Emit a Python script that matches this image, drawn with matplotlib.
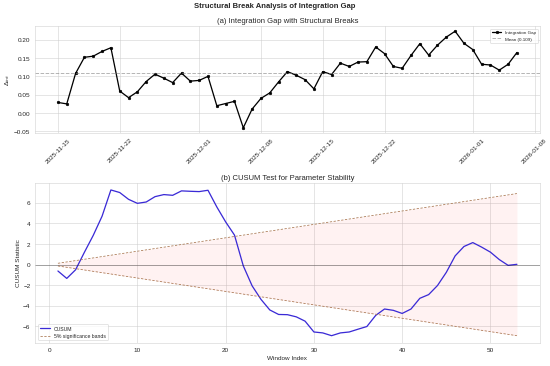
import numpy as np
import pandas as pd
import matplotlib
matplotlib.use("Agg")
import matplotlib.pyplot as plt
import seaborn as sns

# ---------------- data ----------------
gap_dates = pd.date_range("2025-11-15", "2026-01-06", freq="D")
gap_values = [
    0.029, 0.025, 0.108, 0.152, 0.155, 0.168, 0.178, 0.060, 0.042, 0.058,
    0.086, 0.106, 0.095, 0.083, 0.109, 0.087, 0.089, 0.100, 0.020, 0.026,
    0.032, -0.040, 0.011, 0.040, 0.055, 0.085, 0.113, 0.103, 0.091, 0.066,
    0.113, 0.105, 0.136, 0.127, 0.139, 0.140, 0.180, 0.162, 0.127, 0.122,
    0.157, 0.189, 0.158, 0.185, 0.207, 0.223, 0.190, 0.173, 0.133, 0.131,
    0.117, 0.133, 0.165,
]
gap_mean = 0.109

window_index = np.arange(1, 54)
cusum_values = [
    -0.62, -1.34, -0.50, 1.20, 2.84, 4.70, 7.25, 7.00, 6.34, 5.95,
    6.08, 6.60, 6.80, 6.73, 7.16, 7.12, 7.09, 7.22, 5.60, 4.15,
    2.87, -0.12, -2.06, -3.37, -4.40, -4.84, -4.86, -5.07, -5.49, -6.54,
    -6.63, -6.90, -6.63, -6.54, -6.27, -6.01, -4.93, -4.31, -4.44, -4.74,
    -4.31, -3.27, -2.91, -2.03, -0.75, 0.85, 1.76, 2.14, 1.70, 1.21,
    0.49, -0.07, 0.03,
]
band_x = [1, 53]
band_upper = [0.13, 6.90]
band_lower = [-0.13, -6.90]

# ---------------- style ----------------
sns.set_style("whitegrid")
plt.rcParams["font.family"] = ["Liberation Sans", "DejaVu Sans"]

fig = plt.figure(figsize=(12, 8), dpi=550 / 12)
ax1 = fig.add_axes([0.0636, 0.6366, 0.918, 0.2896])
ax2 = fig.add_axes([0.0636, 0.0628, 0.918, 0.4372])

fig.suptitle("Structural Break Analysis of Integration Gap",
             fontsize=12, fontweight="bold", y=0.982, va="center")

# --- panel (a)
ax1.plot(gap_dates, gap_values, color="black", marker="o", markersize=4,
         linewidth=2, label="Integration Gap")
ax1.axhline(gap_mean, color="gray", linestyle="--", linewidth=1.5, alpha=0.6,
            label=f"Mean ({gap_mean:.3f})")
ax1.set_title("(a) Integration Gap with Structural Breaks", fontsize=12)
ax1.set_ylabel(r"$\Delta_{int}$", fontsize=10)
ax1.tick_params(axis="x", rotation=45, labelsize=10)
ax1.tick_params(axis="y", labelsize=10)
ax1.legend(loc="upper right", fontsize=7, frameon=True)

# --- panel (b)
band_color = "#a8744e"
ax2.plot(window_index, cusum_values, color="#3a2ad6", linewidth=2, label="CUSUM")
ax2.plot(band_x, band_upper, color=band_color, linestyle=(0, (3, 2)), linewidth=1.2,
         label="5% significance bands")
ax2.plot(band_x, band_lower, color=band_color, linestyle=(0, (3, 2)), linewidth=1.2)
ax2.fill_between(band_x, band_lower, band_upper, color="red", alpha=0.05,
                 linewidth=0)
ax2.axhline(0, color="black", linewidth=1.5, alpha=0.3)
ax2.set_title("(b) CUSUM Test for Parameter Stability", fontsize=12)
ax2.set_xlabel("Window Index", fontsize=10)
ax2.set_ylabel("CUSUM Statistic", fontsize=10)
ax2.tick_params(labelsize=10)
ax2.legend(loc="lower left", fontsize=8, frameon=True)

fig.savefig("out.png", dpi=550 / 12)
